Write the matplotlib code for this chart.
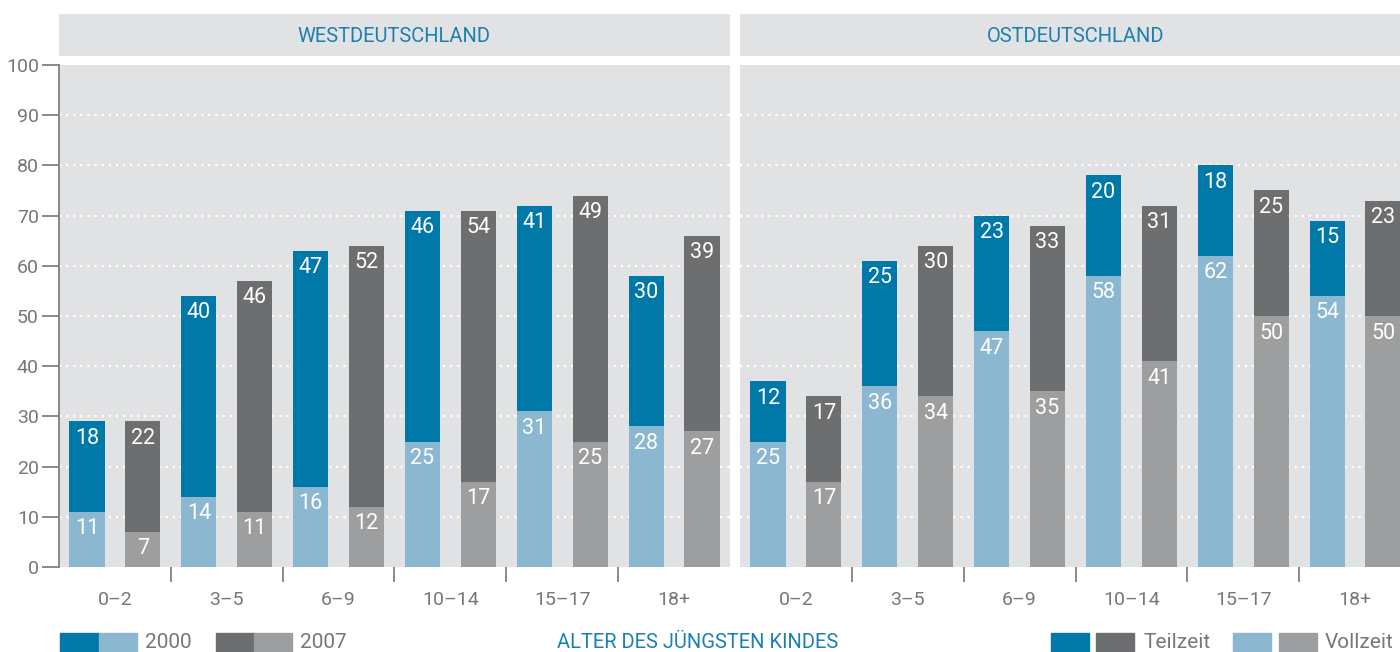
import matplotlib
matplotlib.use('Agg')
import matplotlib.pyplot as plt
import numpy as np
from matplotlib.patches import Rectangle

plt.rcParams['font.family'] = ['Roboto', 'DejaVu Sans']

# Data
groups = ['0–2', '3–5', '6–9', '10–14', '15–17', '18+']
west_voll_2000 = [11, 14, 16, 25, 31, 28]
west_teil_2000 = [18, 40, 47, 46, 41, 30]
west_voll_2007 = [7, 11, 12, 17, 25, 27]
west_teil_2007 = [22, 46, 52, 54, 49, 39]
ost_voll_2000 = [25, 36, 47, 58, 62, 54]
ost_teil_2000 = [12, 25, 23, 20, 18, 15]
ost_voll_2007 = [17, 34, 35, 41, 50, 50]
ost_teil_2007 = [17, 30, 33, 31, 25, 23]
yticks = [0, 10, 20, 30, 40, 50, 60, 70, 80, 90, 100]

# Colours
blue_dark = '#0079a8'
blue_light = '#8cb7d0'
grey_dark = '#6d6e70'
grey_light = '#9d9ea0'
bg = '#e1e2e4'
text_grey = '#767779'
title_blue = '#1b80b0'

W, H = 1400, 652
fig = plt.figure(figsize=(W / 100, H / 100), dpi=100)


def fx(px):
    return px / W


def fy(py):
    return 1 - py / H


def panel(x0, x1, title, title_x, voll00, teil00, voll07, teil07, show_y):
    ax = fig.add_axes([fx(x0), fy(567), fx(x1 - x0), (567 - 65) / H])
    ax.set_facecolor(bg)
    x = np.arange(len(groups))
    off, bw = 0.25, 0.315
    ax.bar(x - off, voll00, bw, color=blue_light, zorder=2)
    ax.bar(x - off, teil00, bw, bottom=voll00, color=blue_dark, zorder=2)
    ax.bar(x + off, voll07, bw, color=grey_light, zorder=2)
    ax.bar(x + off, teil07, bw, bottom=voll07, color=grey_dark, zorder=2)
    for xs, vv, tt in [(x - off, voll00, teil00), (x + off, voll07, teil07)]:
        for xi, v, t in zip(xs, vv, tt):
            ax.text(xi, v - 1.3, str(v), ha='center', va='top', color='white', fontsize=15.5, zorder=3)
            ax.text(xi, v + t - 1.3, str(t), ha='center', va='top', color='white', fontsize=15.5, zorder=3)
    ax.set_xlim(-0.5, 5.5)
    ax.set_ylim(0, 100)
    for y in yticks[1:-1]:
        ax.axhline(y, color='white', lw=1.6, ls=(0, (1, 2.2)), zorder=1)
    ax.set_xticks(x)
    ax.set_xticklabels(groups)
    ax.set_xticks(np.arange(0.5, 5.0, 1.0), minor=True)
    ax.tick_params(axis='x', which='major', length=0, pad=17, labelsize=14, labelcolor=text_grey)
    ax.tick_params(axis='x', which='minor', length=11, width=1.2, color=text_grey, direction='out')
    for s in ['top', 'right', 'bottom']:
        ax.spines[s].set_visible(False)
    if show_y:
        ax.set_yticks(yticks)
        ax.spines['left'].set_color(text_grey)
        ax.spines['left'].set_linewidth(1.2)
        ax.tick_params(axis='y', length=12, width=1.2, color=text_grey, pad=2.5,
                       labelsize=14, labelcolor=text_grey)
    else:
        ax.spines['left'].set_visible(False)
        ax.set_yticks([])
    # header band
    hx = fig.add_axes([fx(x0), fy(56), fx(x1 - x0), 42 / H])
    hx.set_facecolor(bg)
    hx.set_xticks([])
    hx.set_yticks([])
    for s in hx.spines.values():
        s.set_visible(False)
    fig.text(fx(title_x), fy(37), title, ha='center', va='center', color=title_blue, fontsize=14.5)
    return ax


panel(59, 730, 'WESTDEUTSCHLAND', 394, west_voll_2000, west_teil_2000, west_voll_2007, west_teil_2007, True)
panel(740, 1411, 'OSTDEUTSCHLAND', 1076, ost_voll_2000, ost_teil_2000, ost_voll_2007, ost_teil_2007, False)


# bottom legend
def swatch(x0, x1, color):
    fig.patches.append(Rectangle((fx(x0), 0), fx(x1 - x0), fy(633), color=color,
                                 transform=fig.transFigure, figure=fig))


swatch(60, 99, blue_dark)
swatch(99, 137, blue_light)
swatch(216, 254, grey_dark)
swatch(254, 292, grey_light)
swatch(1051, 1089, blue_dark)
swatch(1096, 1134, grey_dark)
swatch(1233, 1271, blue_light)
swatch(1279, 1317, grey_light)
ty = fy(643)
fig.text(fx(145), ty, '2000', color=text_grey, fontsize=15, va='center')
fig.text(fx(300), ty, '2007', color=text_grey, fontsize=15, va='center')
fig.text(fx(1144), ty, 'Teilzeit', color=text_grey, fontsize=15, va='center')
fig.text(fx(1325), ty, 'Vollzeit', color=text_grey, fontsize=15, va='center')
fig.text(fx(698), ty, 'ALTER DES JÜNGSTEN KINDES', color=title_blue, fontsize=14.5,
         va='center', ha='center')

fig.savefig('out.png', dpi=100)
